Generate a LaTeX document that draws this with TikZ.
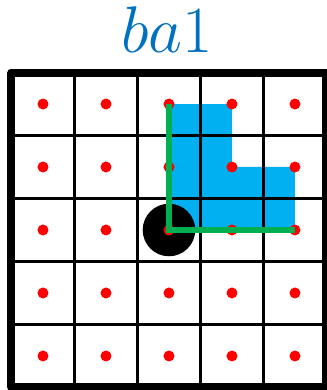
\documentclass[tikz,border=0pt]{standalone}
\usepackage{tikz}
\usetikzlibrary{calc}
\definecolor{titleblue}{HTML}{0070C0}
\definecolor{cellblue}{HTML}{00B0F0}
\definecolor{pathgreen}{HTML}{00B050}

\begin{document}
\begin{tikzpicture}[x=63pt, y=63pt, every node/.style={inner sep=0pt},
  dot/.style={circle, fill=red, minimum size=11pt},
  gridline/.style={line width=2.7pt},
  frameline/.style={line width=8pt, line join=round}]
\useasboundingbox (-0.1825,-0.04) rectangle (5.008,6.151);
% cell centres
\foreach \i in {0,...,4} \foreach \j in {0,...,4} \coordinate (c-\i-\j) at (\i+0.5,\j+0.5);
% shaded region
\fill[cellblue] (c-2-4) -- (c-3-4) -- (c-3-3) -- (c-4-3) -- (c-4-2) -- (c-2-2) -- cycle;
% grid and frame
\draw[gridline, step=1] (0,0) grid (5,5);
\draw[frameline] (0,0) rectangle (5,5);
% origin disc
\fill (c-2-2) circle (0.417);
% cell dots
\foreach \i in {0,...,4} \foreach \j in {0,...,4} \node[dot] (d-\i-\j) at (c-\i-\j) {};
% path
\draw[pathgreen, line width=6.5pt] (d-2-4.center) -- (d-2-2.center) -- (d-4-2.center);
% label
\node[text=titleblue, font=\Huge, scale=2.65, anchor=base] (title) at (2.47,5.31) {$ba1$};
\end{tikzpicture}
\end{document}
